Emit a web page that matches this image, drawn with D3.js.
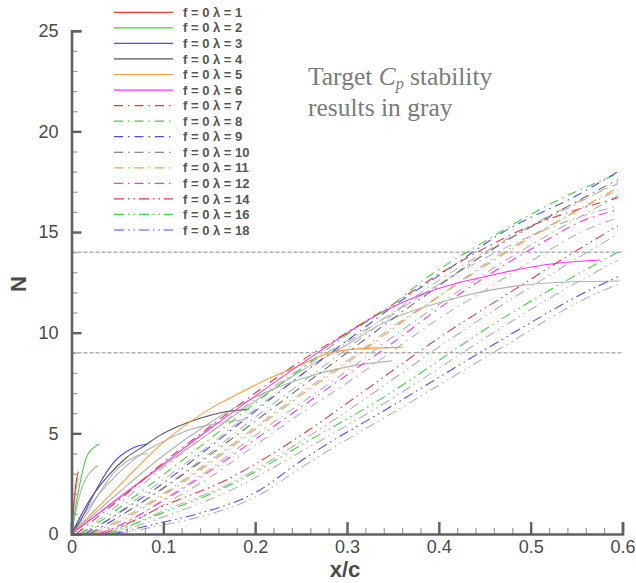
<!DOCTYPE html>
<html>
<head>
<meta charset="utf-8">
<script src="https://cdn.jsdelivr.net/npm/d3@7"></script>
<style>
  body { margin: 0; background: #fff; }
  svg { display: block; }
</style>
</head>
<body>
<svg id="chart" width="636" height="583"></svg>
<script>
// N-factor envelopes, f = 0, for each spanwise wavenumber λ: [x/c, N]
const lam1  = [[0,0],[0.002,1.2],[0.004,2.2],[0.006,2.85],[0.0075,3.1]];
const lam2  = [[0,0],[0.004,1.2],[0.0085,2.35],[0.0125,3.2],[0.0158,3.75],[0.022,4.2],[0.030,4.46]];
const lam3  = [[0,0],[0.01,0.7],[0.02,1.6],[0.03,2.45],[0.04,3.2],[0.05,3.75],[0.06,4.1],[0.07,4.33],[0.083,4.47]];
const lam4  = [[0,0],[0.01,0.9],[0.02,1.7],[0.04,2.9],[0.06,3.8],[0.08,4.4],[0.0964,4.9],[0.1138,5.3],[0.14,5.75],[0.165,6.05],[0.193,6.2]];
const lam5  = [[0,0],[0.05,2.3],[0.0964,4.4],[0.1617,6.5],[0.1835,7.0],[0.209,7.6],[0.245,8.3],[0.2815,9.0],[0.32,9.22],[0.36,9.27]];
const lam6  = [[0,0],[0.05,1.75],[0.0964,3.35],[0.15,5.2],[0.2,6.85],[0.267,8.97],[0.336,10.96],[0.3795,11.87],[0.4667,12.95],[0.52,13.4],[0.5755,13.61]];
const lam7  = [[0.005,0],[0.03,0.9],[0.06,2.0],[0.096,3.4],[0.15,5.3],[0.2,7.0],[0.25,8.6],[0.3,10.0],[0.336,11.0],[0.4,12.9],[0.45,14.2],[0.5,15.3],[0.55,16.1],[0.595,16.7]];
const lam8  = [[0.01,0],[0.04,0.9],[0.07,1.9],[0.096,2.8],[0.15,4.7],[0.2,6.5],[0.25,8.2],[0.3,9.9],[0.35,11.4],[0.383,12.6],[0.445,14.4],[0.5175,16.3],[0.595,17.9]];
const lam9  = [[0.015,0],[0.05,1.0],[0.096,2.4],[0.15,4.3],[0.2,6.1],[0.25,7.9],[0.3,9.6],[0.35,11.3],[0.4086,13.1],[0.47,15.0],[0.5537,16.9],[0.595,18.0]];
const lam10 = [[0.02,0],[0.06,1.1],[0.096,2.15],[0.15,3.9],[0.2,5.6],[0.25,7.3],[0.3,9.0],[0.35,10.7],[0.39,12.0],[0.45,13.9],[0.5175,15.7],[0.595,17.6]];
const lam11 = [[0.025,0],[0.06,0.8],[0.096,1.8],[0.15,3.5],[0.2,5.2],[0.25,6.9],[0.3,8.5],[0.35,10.2],[0.4,11.8],[0.481,14.2],[0.54,15.8],[0.595,17.2]];
const lam12 = [[0.03,0],[0.06,0.6],[0.096,1.55],[0.15,3.1],[0.2,4.7],[0.25,6.3],[0.3,7.9],[0.35,9.5],[0.4,11.2],[0.445,12.6],[0.5175,14.6],[0.5537,15.5],[0.595,16.1]];
const lam14 = [[0.035,0],[0.06,0.5],[0.096,1.3],[0.169,2.7],[0.2597,5.2],[0.3033,6.6],[0.4086,10.0],[0.481,12.1],[0.54,13.8],[0.595,15.3]];
const lam16 = [[0.04,0],[0.0964,1.0],[0.169,2.35],[0.2597,4.67],[0.332,6.57],[0.4666,10.63],[0.521,12.12],[0.595,14.0]];
const lam18 = [[0.045,0],[0.0964,0.55],[0.1326,0.94],[0.2053,2.19],[0.2489,3.6],[0.3577,6.6],[0.4666,9.6],[0.561,12.04],[0.595,12.78]];

// Target Cp stability results (drawn in gray)
const tgt1  = [[0,0],[0.002,1.0],[0.004,1.9],[0.006,2.5],[0.0075,2.8]];
const tgt2  = [[0,0],[0.005,1.2],[0.01,2.1],[0.015,2.7],[0.022,3.15],[0.029,3.4]];
const tgt3  = [[0,0],[0.015,0.9],[0.03,2.0],[0.045,3.0],[0.06,3.6],[0.072,3.9],[0.083,4.0]];
const tgt4  = [[0,0],[0.02,1.4],[0.04,2.5],[0.06,3.4],[0.08,4.1],[0.1,4.6],[0.13,5.2],[0.16,5.5],[0.19,5.7]];
const tgt5  = [[0,0],[0.05,2.0],[0.1,3.9],[0.15,5.5],[0.2,6.8],[0.25,7.7],[0.3,8.3],[0.349,8.6]];
const tgt6  = [[0,0],[0.05,1.7],[0.1,3.4],[0.15,5.0],[0.2,6.6],[0.25,8.1],[0.3,9.4],[0.336,10.4],[0.4086,11.6],[0.481,12.3],[0.5465,12.53],[0.597,12.57]];
const tgt7  = [[0.008,0],[0.03,0.7],[0.06,1.8],[0.1,3.3],[0.15,5.0],[0.2,6.7],[0.25,8.2],[0.3,9.6],[0.34,10.7],[0.4,12.4],[0.45,13.7],[0.5,14.8],[0.55,15.7],[0.595,16.3]];
const tgt8  = [[0.012,0],[0.04,0.7],[0.07,1.7],[0.1,2.7],[0.15,4.4],[0.2,6.2],[0.25,7.9],[0.3,9.5],[0.35,11.0],[0.4,12.6],[0.45,14.0],[0.52,15.8],[0.595,17.4]];
const tgt9  = [[0.018,0],[0.05,0.8],[0.1,2.3],[0.15,4.0],[0.2,5.8],[0.25,7.5],[0.3,9.2],[0.35,10.9],[0.41,12.7],[0.47,14.5],[0.55,16.4],[0.595,17.5]];
const tgt10 = [[0.022,0],[0.06,0.9],[0.1,2.0],[0.15,3.6],[0.2,5.3],[0.25,7.0],[0.3,8.6],[0.35,10.3],[0.4,11.8],[0.45,13.4],[0.52,15.3],[0.595,17.1]];
const tgt11 = [[0.028,0],[0.06,0.6],[0.1,1.7],[0.15,3.2],[0.2,4.9],[0.25,6.5],[0.3,8.1],[0.35,9.8],[0.4,11.4],[0.48,13.8],[0.54,15.4],[0.595,16.8]];
const tgt12 = [[0.032,0],[0.06,0.45],[0.1,1.45],[0.15,2.8],[0.2,4.4],[0.25,6.0],[0.3,7.5],[0.35,9.1],[0.4,10.7],[0.45,12.1],[0.52,14.1],[0.555,15.0],[0.595,15.7]];
const tgt14 = [[0.038,0],[0.06,0.35],[0.1,1.15],[0.17,2.45],[0.26,4.9],[0.3,6.1],[0.41,9.6],[0.48,11.7],[0.54,13.4],[0.595,14.9]];
const tgt16 = [[0.043,0],[0.1,0.85],[0.17,2.1],[0.26,4.35],[0.33,6.2],[0.47,10.3],[0.52,11.7],[0.595,13.6]];
const tgt18 = [[0.048,0],[0.1,0.45],[0.135,0.8],[0.205,1.95],[0.25,3.3],[0.36,6.3],[0.47,9.3],[0.56,11.7],[0.595,12.4]];

const lambdas = [1, 2, 3, 4, 5, 6, 7, 8, 9, 10, 11, 12, 14, 16, 18];
const lamData = [lam1, lam2, lam3, lam4, lam5, lam6, lam7, lam8, lam9, lam10, lam11, lam12, lam14, lam16, lam18];
const tgtData = [tgt1, tgt2, tgt3, tgt4, tgt5, tgt6, tgt7, tgt8, tgt9, tgt10, tgt11, tgt12, tgt14, tgt16, tgt18];
const lineColors = ["#e8383c", "#3fd43f", "#4b4bff", "#555555", "#ff9a3c", "#ff33ff",
                    "#e8383c", "#3fd43f", "#4b4bff", "#6a6a6a", "#ff9a3c", "#ff33ff",
                    "#e8383c", "#3fd43f", "#4b4bff"];
const lineStyles = ["solid", "solid", "solid", "solid", "solid", "solid",
                    "dashdot", "dashdot", "dashdot", "dashdot", "dashdot", "dashdot",
                    "dashdotdot", "dashdotdot", "dashdotdot"];
const thresholdN = [14, 9];
const xTicks = [0, 0.1, 0.2, 0.3, 0.4, 0.5, 0.6];
const yTicks = [0, 5, 10, 15, 20, 25];

const dashArray = { solid: null, dashdot: "9,5,1.5,5", dashdotdot: "10,4,1.5,4,1.5,4" };
const grayTarget = "#b2b2b2";

const svg = d3.select("#chart");
const x = d3.scaleLinear().domain([0, 0.6]).range([71.5, 622.5]);
const y = d3.scaleLinear().domain([0, 25]).range([534, 30.7]);

svg.append("defs").append("clipPath").attr("id", "plotclip")
  .append("rect").attr("x", x(0)).attr("y", y(25) - 2)
  .attr("width", x(0.6) - x(0) + 2).attr("height", y(0) - y(25) + 2);

const line = d3.line().x(d => x(d[0])).y(d => y(d[1])).curve(d3.curveMonotoneX);

const plot = svg.append("g").attr("clip-path", "url(#plotclip)");

// threshold lines
plot.selectAll(".thr").data(thresholdN).join("line")
  .attr("x1", x(0)).attr("x2", x(0.6))
  .attr("y1", d => y(d)).attr("y2", d => y(d))
  .attr("stroke", "#8a8a8a").attr("stroke-width", 1)
  .attr("stroke-dasharray", "4,2");

// gray target curves underneath
plot.selectAll(".tgt").data(tgtData).join("path")
  .attr("d", line)
  .attr("fill", "none")
  .attr("stroke", grayTarget)
  .attr("stroke-width", 1.1)
  .attr("stroke-dasharray", (d, i) => dashArray[lineStyles[i]]);

// coloured curves
plot.selectAll(".lam").data(lamData).join("path")
  .attr("d", line)
  .attr("fill", "none")
  .attr("stroke", (d, i) => lineColors[i])
  .attr("stroke-width", 1.1)
  .attr("stroke-dasharray", (d, i) => dashArray[lineStyles[i]]);

// axes
const axisColor = "#606060";
const labelColor = "#4a4a4a";

const xMinor = svg.append("g").attr("transform", `translate(0,${y(0)})`)
  .call(d3.axisBottom(x).tickValues(d3.range(0, 0.6001, 0.02)).tickSize(-6).tickFormat(""));
xMinor.select(".domain").remove();
xMinor.selectAll(".tick line").attr("stroke", "#9a9a9a").attr("stroke-width", 1.2);

const yMinor = svg.append("g").attr("transform", `translate(${x(0)},0)`)
  .call(d3.axisLeft(y).tickValues(d3.range(0, 25.01, 1)).tickSize(-6).tickFormat(""));
yMinor.select(".domain").remove();
yMinor.selectAll(".tick line").attr("stroke", "#9a9a9a").attr("stroke-width", 1.2);

const xAxis = svg.append("g").attr("transform", `translate(0,${y(0)})`)
  .call(d3.axisBottom(x).tickValues(xTicks).tickSize(-12).tickPadding(6)
    .tickFormat(d => d === 0 ? "0" : d3.format(".1f")(d)));
const yAxis = svg.append("g").attr("transform", `translate(${x(0)},0)`)
  .call(d3.axisLeft(y).tickValues(yTicks).tickSize(-10).tickPadding(13));

[xAxis, yAxis].forEach(g => {
  g.select(".domain").attr("stroke", axisColor).attr("stroke-width", 2.6);
  g.selectAll(".tick line").attr("stroke", axisColor).attr("stroke-width", 2.4);
  g.selectAll(".tick text").attr("fill", labelColor)
    .style("font-family", "'Liberation Sans', Arial, sans-serif").style("font-size", "18px");
});

svg.append("text").attr("x", 345).attr("y", 577).attr("text-anchor", "middle")
  .attr("fill", labelColor).style("font-family", "'Liberation Sans', Arial, sans-serif")
  .style("font-size", "22px").style("font-weight", "bold").text("x/c");
svg.append("text").attr("transform", "translate(26,284) rotate(-90)").attr("text-anchor", "middle")
  .attr("fill", labelColor).style("font-family", "'Liberation Sans', Arial, sans-serif")
  .style("font-size", "22px").style("font-weight", "bold").text("N");

// legend
const legend = svg.append("g");
const rowY = i => 12.3 + i * 15.55;
lambdas.forEach((lam, i) => {
  legend.append("line").attr("x1", 114).attr("x2", 173)
    .attr("y1", rowY(i)).attr("y2", rowY(i))
    .attr("stroke", lineColors[i]).attr("stroke-width", 1.2)
    .attr("stroke-dasharray", dashArray[lineStyles[i]]);
  legend.append("text").attr("x", 183).attr("y", rowY(i) + 4.6)
    .attr("fill", "#555").style("font-family", "'Liberation Sans', Arial, sans-serif")
    .style("font-size", "13px").style("font-weight", "bold")
    .text(`f = 0 λ = ${lam}`);
});

// annotation, two separate lines
const noteStyle = sel => sel.attr("fill", "#7a7a7a")
  .style("font-family", "'Liberation Serif', 'Times New Roman', serif").style("font-size", "25.5px");
const l1 = svg.append("text").attr("x", 308).attr("y", 85).call(noteStyle);
l1.append("tspan").text("Target ");
l1.append("tspan").style("font-style", "italic").text("C");
l1.append("tspan").style("font-style", "italic").style("font-size", "16px").attr("dy", 4).text("p");
l1.append("tspan").attr("dy", -4).text(" stability");
svg.append("text").attr("x", 308).attr("y", 116).call(noteStyle).text("results in gray");
</script>
</body>
</html>
